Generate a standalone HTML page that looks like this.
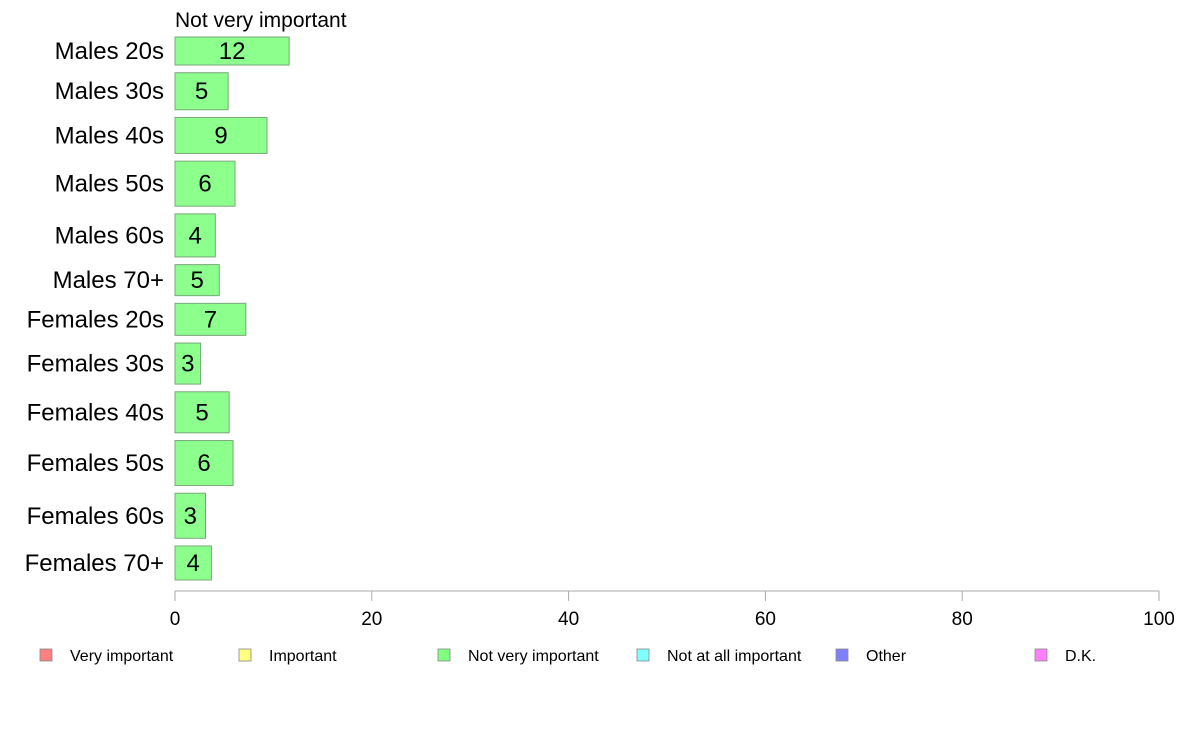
<!DOCTYPE html>
<html><head><meta charset="utf-8"><style>
body{margin:0;background:#fff;}
svg{display:block;font-family:"Liberation Sans",Arial,sans-serif;}
</style></head><body>
<svg id="chart" width="1188" height="736" viewBox="0 0 1188 736" xmlns="http://www.w3.org/2000/svg">
<text x="175" y="27" font-size="21" fill="#000">Not very important</text>
<g id="bars"></g>
<g id="axis"></g>
<g id="legend"></g>
</svg>
<script>
const categories = ["Males 20s","Males 30s","Males 40s","Males 50s","Males 60s","Males 70+","Females 20s","Females 30s","Females 40s","Females 50s","Females 60s","Females 70+"];
const values = [11.6,5.4,9.35,6.1,4.1,4.5,7.2,2.6,5.5,5.9,3.1,3.7];
const valueLabels = ["12","5","9","6","4","5","7","3","5","6","3","4"];
const groupSizes = [28,37,36,45,43,31,32,41,41,45,45,34];
const ticks = [0,20,40,60,80,100];
const legendLabels = ["Very important","Important","Not very important","Not at all important","Other","D.K."];
const legendColors = ["#ff8080","#ffff80","#80ff80","#80ffff","#8080ff","#ff80ff"];

const NS="http://www.w3.org/2000/svg";
const x0=175,x1=1159,yTop=37,yBot=580,gap=7.7;
const xs=v=>x0+(v/100)*(x1-x0);
const totalSize=groupSizes.reduce((a,b)=>a+b,0);
const unit=(yBot-yTop-gap*(groupSizes.length-1))/totalSize;
function mk(tag,attrs,parent){const e=document.createElementNS(NS,tag);for(const k in attrs)e.setAttribute(k,attrs[k]);parent.appendChild(e);return e;}
const bars=document.getElementById('bars');
let y=yTop;
categories.forEach((c,i)=>{
  const h=groupSizes[i]*unit;
  const r=mk('rect',{x:x0,y:y,width:xs(values[i])-x0,height:h,fill:"#8cff8c",stroke:"#7aa77a","stroke-width":1},bars);
  
  
  const t=mk('text',{x:(x0+xs(values[i]))/2,y:y+h/2+8,"font-size":24,"text-anchor":"middle",fill:"#000"},bars);
  t.textContent=valueLabels[i];
  
  
  const l=mk('text',{x:164,y:y+h/2+8,"font-size":24,"text-anchor":"end",fill:"#000"},bars);
  l.textContent=c;
  
  
  y+=h+gap;
});
const axis=document.getElementById('axis');
const al=mk('line',{x1:x0,x2:x1,y1:591,y2:591,stroke:"#aaa","stroke-width":1},axis);


ticks.forEach(t=>{
  const tl=mk('line',{x1:xs(t),x2:xs(t),y1:591,y2:601,stroke:"#aaa","stroke-width":1},axis);
  
  
  const tx=mk('text',{x:xs(t),y:625,"font-size":19,"text-anchor":"middle",fill:"#000"},axis);
  tx.textContent=t;
  
  
});
const leg=document.getElementById('legend');
legendLabels.forEach((lab,i)=>{
  const bx=40+i*199;
  const r=mk('rect',{x:bx,y:649,width:12,height:12,fill:legendColors[i],stroke:"#888","stroke-width":0.8},leg);
  
  
  const t=mk('text',{x:bx+30,y:661,"font-size":16,fill:"#000"},leg);
  t.textContent=lab;
  
  
});
</script>
</body></html>
